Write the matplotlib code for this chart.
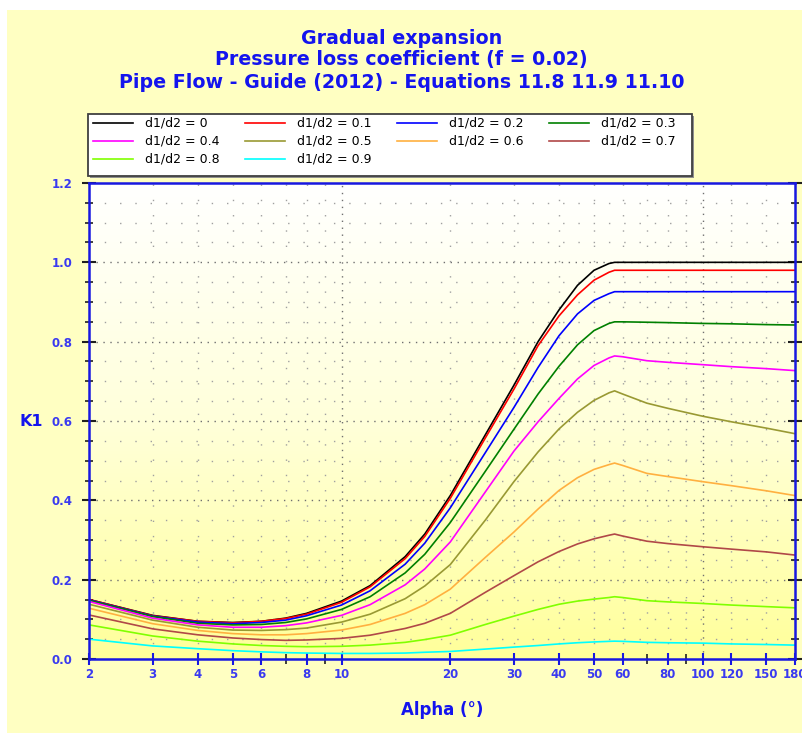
import numpy as np
import matplotlib
matplotlib.use('Agg')
import matplotlib.pyplot as plt
from matplotlib.lines import Line2D
from matplotlib.patches import Rectangle
from matplotlib.ticker import FixedLocator, FixedFormatter, NullFormatter
from matplotlib.colors import LinearSegmentedColormap

plt.rcParams['font.family'] = ['DejaVu Sans']

# ---------------- data ----------------
alpha = [2, 3, 4, 5, 6, 7, 8, 10, 12, 15, 17, 20, 25, 30, 35, 40, 45, 50, 55, 57,
         60, 70, 80, 100, 120, 150, 180]

k_00 = [0.150, 0.110, 0.095, 0.092, 0.095, 0.103, 0.115, 0.146, 0.185, 0.258, 0.315, 0.412,
        0.565, 0.690, 0.800, 0.880, 0.942, 0.980, 0.997, 1.000,
        1.000, 1.000, 1.000, 1.000, 1.000, 1.000, 1.000]
k_01 = [0.150, 0.109, 0.095, 0.091, 0.095, 0.102, 0.113, 0.143, 0.182, 0.253, 0.309, 0.405,
        0.557, 0.680, 0.790, 0.865, 0.918, 0.955, 0.975, 0.980,
        0.980, 0.980, 0.980, 0.980, 0.980, 0.980, 0.980]
k_02 = [0.149, 0.108, 0.093, 0.089, 0.092, 0.098, 0.109, 0.136, 0.172, 0.239, 0.292, 0.381,
        0.520, 0.634, 0.735, 0.815, 0.870, 0.904, 0.921, 0.926,
        0.926, 0.926, 0.926, 0.926, 0.926, 0.926, 0.926]
k_03 = [0.148, 0.107, 0.090, 0.086, 0.087, 0.092, 0.101, 0.125, 0.157, 0.217, 0.264, 0.344,
        0.473, 0.579, 0.668, 0.738, 0.792, 0.828, 0.846, 0.850,
        0.850, 0.849, 0.848, 0.846, 0.845, 0.843, 0.842]
k_04 = [0.145, 0.103, 0.086, 0.080, 0.080, 0.084, 0.091, 0.110, 0.137, 0.187, 0.227, 0.295,
        0.421, 0.524, 0.598, 0.657, 0.706, 0.740, 0.759, 0.764,
        0.762, 0.752, 0.748, 0.742, 0.737, 0.732, 0.727]
k_05 = [0.138, 0.098, 0.080, 0.073, 0.072, 0.074, 0.078, 0.093, 0.113, 0.152, 0.184, 0.238,
        0.350, 0.447, 0.522, 0.580, 0.622, 0.652, 0.671, 0.676,
        0.668, 0.645, 0.632, 0.612, 0.598, 0.582, 0.568]
k_06 = [0.128, 0.089, 0.072, 0.064, 0.061, 0.061, 0.064, 0.073, 0.087, 0.115, 0.137, 0.176,
        0.256, 0.320, 0.378, 0.425, 0.457, 0.478, 0.490, 0.494,
        0.488, 0.468, 0.460, 0.447, 0.437, 0.424, 0.412]
k_07 = [0.111, 0.076, 0.061, 0.053, 0.049, 0.047, 0.048, 0.052, 0.060, 0.077, 0.090, 0.115,
        0.168, 0.210, 0.245, 0.271, 0.290, 0.303, 0.312, 0.315,
        0.310, 0.297, 0.291, 0.283, 0.277, 0.270, 0.262]
k_08 = [0.086, 0.058, 0.045, 0.038, 0.034, 0.032, 0.031, 0.032, 0.035, 0.042, 0.049, 0.060,
        0.087, 0.108, 0.125, 0.138, 0.146, 0.151, 0.155, 0.157,
        0.155, 0.147, 0.144, 0.140, 0.136, 0.132, 0.129]
k_09 = [0.050, 0.033, 0.026, 0.021, 0.018, 0.016, 0.015, 0.014, 0.014, 0.015, 0.017, 0.019,
        0.025, 0.030, 0.034, 0.038, 0.041, 0.043, 0.0445, 0.045,
        0.0445, 0.042, 0.041, 0.040, 0.038, 0.0365, 0.035]

series = [k_00, k_01, k_02, k_03, k_04, k_05, k_06, k_07, k_08, k_09]
labels = ['d1/d2 = 0', 'd1/d2 = 0.1', 'd1/d2 = 0.2', 'd1/d2 = 0.3', 'd1/d2 = 0.4',
          'd1/d2 = 0.5', 'd1/d2 = 0.6', 'd1/d2 = 0.7', 'd1/d2 = 0.8', 'd1/d2 = 0.9']
colors = ['#000000', '#FF0000', '#0000FF', '#008000', '#FF00FF',
          '#999933', '#FFB040', '#B04848', '#80FF00', '#00FFFF']

x_tick_vals = [2, 3, 4, 5, 6, 8, 10, 20, 30, 40, 50, 60, 80, 100, 120, 150, 180]
x_tick_labels = ['2', '3', '4', '5', '6', '8', '10', '20', '30', '40', '50', '60',
                 '80', '100', '120', '150', '180']
x_minor_vals = [7, 9, 70, 90]
y_tick_vals = [0.0, 0.2, 0.4, 0.6, 0.8, 1.0, 1.2]
y_tick_labels = ['0.0', '0.2', '0.4', '0.6', '0.8', '1.0', '1.2']

title_lines = ['Gradual expansion', 'Pressure loss coefficient (f = 0.02)',
               'Pipe Flow - Guide (2012) - Equations 11.8 11.9 11.10']

# ---------------- figure ----------------
W, H = 803, 733
fig = plt.figure(figsize=(W / 100, H / 100), dpi=100)
fig.patch.set_facecolor('white')
fig.patches.append(Rectangle((7 / W, 0), 1 - 7 / W, 1 - 10 / H, transform=fig.transFigure,
                             facecolor='#FFFFC2', edgecolor='none', zorder=-10))

L, R, T, B = 89, 795, 183, 659
ax = fig.add_axes([L / W, 1 - B / H, (R - L) / W, (B - T) / H])
ax.set_xscale('log')

cmap = LinearSegmentedColormap.from_list('bg', ['#FFFFFF', '#FFFFDA', '#FFFF9A'])
ax.imshow(np.linspace(0, 1, 256).reshape(-1, 1), cmap=cmap, aspect='auto',
          extent=[0, 1, 0, 1], transform=ax.transAxes, origin='upper', zorder=0)

ax.set_xlim(2, 180)
ax.set_ylim(0, 1.2)

# grid
for y in np.arange(0.05, 1.2, 0.05):
    if abs(round(y / 0.2) * 0.2 - y) < 1e-6:
        ax.axhline(y, color='#707070', lw=1.0, ls=(0, (1, 4)), zorder=1)
    else:
        ax.axhline(y, color='#A0A0A0', lw=1.0, ls=(0, (1, 10)), zorder=1)
for xv in [3, 4, 5, 6, 7, 8, 9, 20, 30, 40, 50, 60, 70, 80, 90, 120, 150]:
    ax.axvline(xv, color='#A0A0A0', lw=1.0, ls=(0, (1, 10)), zorder=1)
for xv in [10, 100]:
    ax.axvline(xv, color='#707070', lw=1.0, ls=(0, (1, 4)), zorder=1)

for vals, c in zip(series, colors):
    ax.plot(alpha, vals, color=c, lw=1.2, zorder=3, solid_joinstyle='round')

# axes styling
for s in ax.spines.values():
    s.set_color('#1818E0')
    s.set_linewidth(1.8)
    s.set_zorder(5)

tick_blue = '#3A3AF0'
ax.xaxis.set_major_locator(FixedLocator(x_tick_vals))
ax.xaxis.set_major_formatter(FixedFormatter(x_tick_labels))
ax.xaxis.set_minor_locator(FixedLocator(x_minor_vals))
ax.xaxis.set_minor_formatter(NullFormatter())
ax.yaxis.set_major_locator(FixedLocator(y_tick_vals))
ax.yaxis.set_major_formatter(FixedFormatter(y_tick_labels))
ax.yaxis.set_minor_locator(FixedLocator(list(np.arange(0.05, 1.2, 0.05))))

ax.tick_params(axis='x', which='major', direction='inout', length=9, width=1.5,
               color='#1818E0', labelcolor=tick_blue, labelsize=8.5, pad=2)
ax.tick_params(axis='x', which='minor', direction='inout', length=7, width=1.2,
               color='#202020')
ax.tick_params(axis='y', which='major', direction='inout', length=10, width=1.5,
               color='#202020', labelcolor=tick_blue, labelsize=8.5, pad=7,
               right=True)
ax.tick_params(axis='y', which='minor', direction='inout', length=6, width=1.2,
               color='#202020', right=True)
for lab in ax.get_xticklabels() + ax.get_yticklabels():
    lab.set_fontweight('bold')

# titles
title_color = '#1414EE'
for i, t in enumerate(title_lines):
    fig.text(0.5, 1 - (38 + 22 * i) / H, t, ha='center', va='center',
             fontsize=13.7, fontweight='bold', color=title_color)

fig.text(31 / W, 1 - 421 / H, 'K1', ha='center', va='center', fontsize=11.5,
         fontweight='bold', color=title_color)
fig.text(442 / W, 1 - 710 / H, 'Alpha (°)', ha='center', va='center', fontsize=12,
         fontweight='bold', color=title_color)

# legend (manual, figure coords)
bx0, by0, bx1, by1 = 88, 114, 692, 176
fig.patches.append(Rectangle((bx0 / W + 2 / W, 1 - (by1 + 2) / H), (bx1 - bx0) / W,
                             (by1 - by0) / H, transform=fig.transFigure,
                             facecolor='#909090', edgecolor='none', zorder=1))
fig.patches.append(Rectangle((bx0 / W, 1 - by1 / H), (bx1 - bx0) / W, (by1 - by0) / H,
                             transform=fig.transFigure, facecolor='white',
                             edgecolor='#404040', lw=1.3, zorder=2))
col_x = [93, 245, 397, 549]
row_y = [123, 141, 159]
for i, (lab, c) in enumerate(zip(labels, colors)):
    r, cc = divmod(i, 4)
    x0 = col_x[cc]
    y0 = 1 - row_y[r] / H
    fig.lines.append(Line2D([x0 / W, (x0 + 40) / W], [y0, y0], transform=fig.transFigure,
                            color=c, lw=1.2, zorder=3))
    fig.text((x0 + 52) / W, y0, lab, ha='left', va='center', fontsize=9,
             color='black', zorder=3)

fig.savefig('out.png', dpi=100)
